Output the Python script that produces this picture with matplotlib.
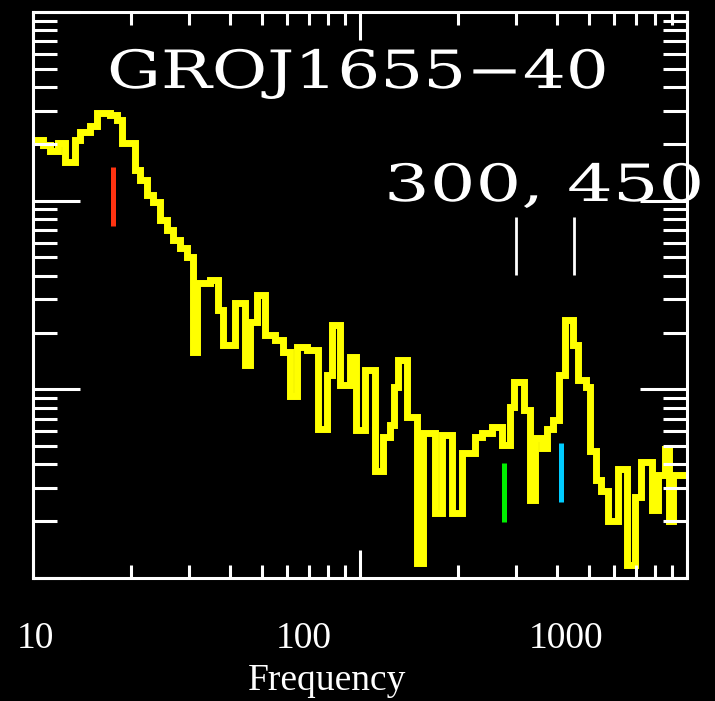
import numpy as np
import matplotlib
matplotlib.use("Agg")
import matplotlib.pyplot as plt
from matplotlib import patheffects
from matplotlib.transforms import Affine2D

# bin edges (Hz) and power per bin
edges = [10.0, 10.73, 11.27, 11.93, 12.53, 13.44, 13.92, 14.94, 15.69, 17.20,
         18.06, 18.72, 20.50, 21.24, 22.32, 23.28, 24.45, 25.69, 26.80, 28.16,
         29.58, 30.86, 31.73, 34.77, 36.79, 38.11, 41.47, 44.49, 46.09, 48.42,
         51.23, 54.97, 58.15, 61.09, 64.17, 68.85, 74.38, 79.29, 82.13, 86.86,
         93.2, 97.2, 103.6, 111.1, 117.6, 123.5, 127.0, 130.7, 139.2, 149.4,
         155.8, 169.6, 178.2, 191.1, 205.0, 224.7, 236.1, 253.3, 271.9, 287.5,
         295.8, 317.3, 331.1, 343.0, 360.3, 373.2, 389.3, 406.1, 423.7, 448.3,
         464.2, 491.1, 505.1, 526.9, 545.8, 573.4, 615.2, 655.3, 693.4, 723.3,
         781.6, 815.2, 856.5, 881.0, 906.2, 1000.0]
power = [2.10, 1.97, 1.83, 2.02, 1.60, 2.10, 2.31, 2.49, 2.92, 2.85,
         2.68, 2.02, 1.46, 1.29, 1.07, 0.98, 0.79, 0.70, 0.62, 0.56,
         0.50, 0.158, 0.366, 0.380, 0.264, 0.172, 0.287, 0.135, 0.228, 0.316,
         0.194, 0.183, 0.158, 0.092, 0.168, 0.162, 0.062, 0.119, 0.219, 0.106,
         0.149, 0.061, 0.127, 0.037, 0.056, 0.065, 0.103, 0.143, 0.071, 0.012,
         0.059, 0.022, 0.057, 0.022, 0.046, 0.056, 0.059, 0.063, 0.051, 0.081,
         0.109, 0.078, 0.026, 0.055, 0.049, 0.062, 0.069, 0.119, 0.233, 0.172,
         0.112, 0.103, 0.047, 0.033, 0.029, 0.020, 0.038, 0.0117, 0.027, 0.041,
         0.023, 0.035, 0.048, 0.020, 0.035]

# coloured marks: frequency, bottom, top, colour
mark_freq = [17.6, 274.7, 413.2]
mark_lo = [0.734, 0.0198, 0.0253]
mark_hi = [1.51, 0.0407, 0.052]
mark_col = ["#ff3311", "#00ee00", "#00ccff"]

# white QPO marks at 300 and 450 Hz
qpo_freq = [300, 450]
qpo_lo = 0.404
qpo_hi = 0.82

title = "GROJ1655\u221240"
qpo_text = "300, 450"
tick_text = ["10", "100", "1000"]
xlabel = "Frequency"


class Widen(patheffects.AbstractPathEffect):
    # stretch glyphs horizontally, like the wide plot font
    def __init__(self, sx):
        super().__init__()
        self.sx = sx

    def draw_path(self, renderer, gc, tpath, affine, rgbFace=None):
        renderer.draw_path(gc, tpath, Affine2D().scale(self.sx, 1) + affine, rgbFace)


W, H = 715, 701
fig = plt.figure(figsize=(W / 100, H / 100), dpi=100, facecolor="black")
ax = fig.add_axes([33 / W, 1 - 578 / H, 654 / W, 566 / H], facecolor="black")

ax.stairs(power, edges, baseline=None, color="#ffff00", lw=5)
ax.vlines(mark_freq, mark_lo, mark_hi, colors=mark_col, lw=3.6)
ax.vlines(qpo_freq, qpo_lo, qpo_hi, colors="white", lw=2)

ax.set_xscale("log")
ax.set_yscale("log")
ax.set_xlim(10, 1000)
ax.set_ylim(0.01, 10)

for s in ax.spines.values():
    s.set_color("white")
    s.set_linewidth(2.2)
ax.tick_params(which="both", direction="in", colors="white", width=2.2,
               top=True, right=True, labelbottom=False, labelleft=False)
ax.tick_params(axis="x", which="major", length=20)
ax.tick_params(axis="x", which="minor", length=9.5)
ax.tick_params(axis="y", which="major", length=34)
ax.tick_params(axis="y", which="minor", length=17)

fig.text(107 / W, 1 - 88 / H, title, color="white", family="DejaVu Serif",
         fontsize=38, ha="left", va="baseline", path_effects=[Widen(1.28)])
fig.text(384 / W, 1 - 201 / H, qpo_text, color="white", family="DejaVu Serif",
         fontsize=37, ha="left", va="baseline", path_effects=[Widen(1.40)])

for lab, xc in zip(tick_text, [35, 304, 566]):
    fig.text(xc / W, 1 - 648 / H, lab, color="white", family="Liberation Serif",
             fontsize=27, ha="center", va="baseline")
fig.text(327 / W, 1 - 690 / H, xlabel, color="white", family="Liberation Serif",
         fontsize=27, ha="center", va="baseline")

fig.savefig("out.png", dpi=100, facecolor="black")
